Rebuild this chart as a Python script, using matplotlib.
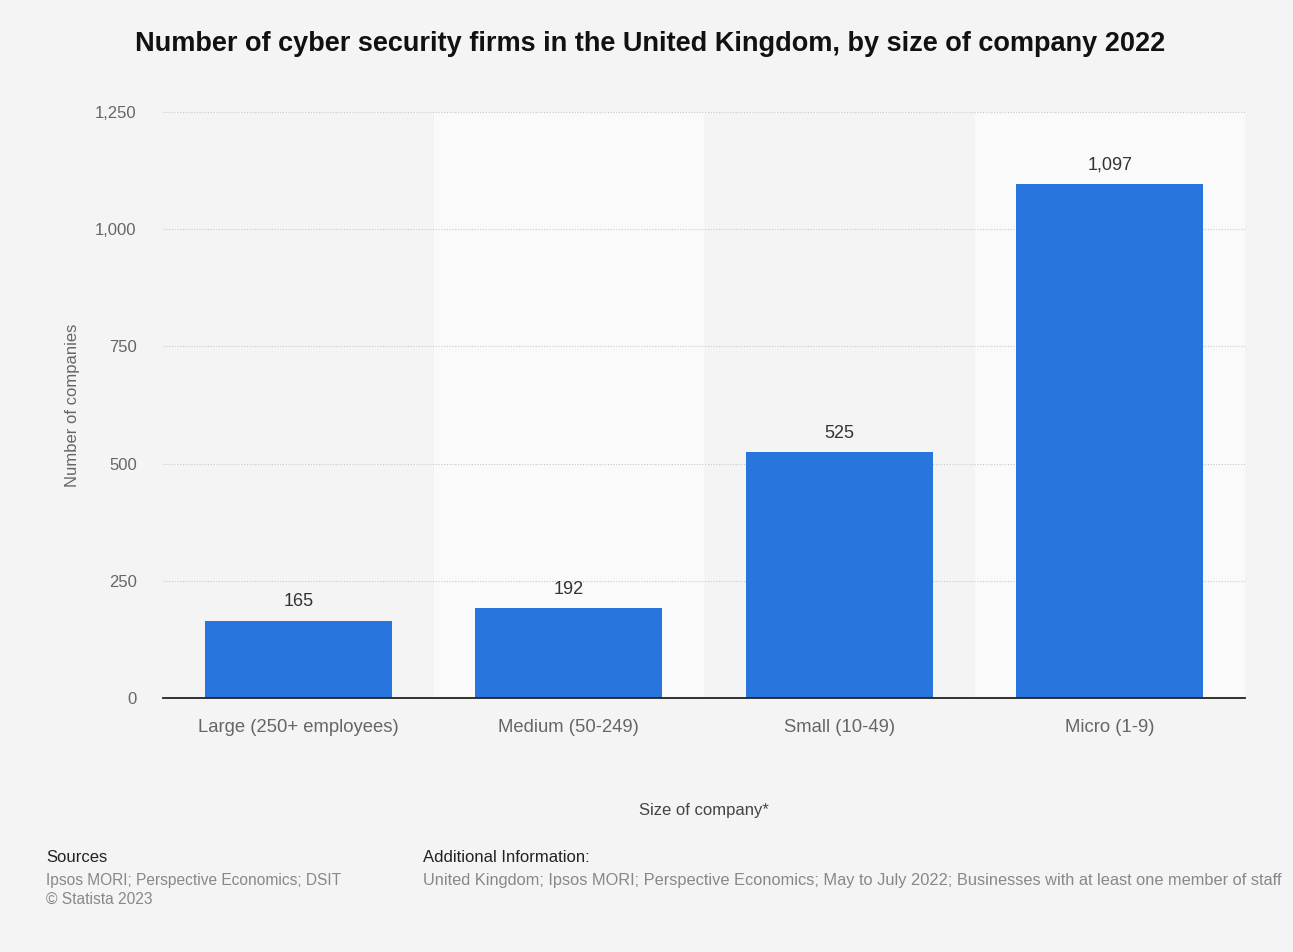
"""Statista-style bar chart: UK cyber security firms by company size, 2022."""
import matplotlib

matplotlib.use("Agg")
import matplotlib.pyplot as plt
from matplotlib.ticker import FuncFormatter

categories = ["Large (250+ employees)", "Medium (50-249)", "Small (10-49)", "Micro (1-9)"]
firms = [165, 192, 525, 1097]
y_ticks = [0, 250, 500, 750, 1000, 1250]

plt.rcParams["font.family"] = ["Liberation Sans", "DejaVu Sans"]

BG = "#f4f4f4"
BAR = "#2876dd"
GREY = "#666666"

fig = plt.figure(figsize=(12.93, 9.52), dpi=100, facecolor=BG)
ax = fig.add_axes([0.1261, 0.2668, 0.8368, 0.6156], facecolor=BG)

x = range(len(categories))
for i in x:
    if i % 2 == 1:
        ax.axvspan(i - 0.5, i + 0.5, color="#fafafa", zorder=0, lw=0)

bars = ax.bar(x, firms, width=0.69, color=BAR, zorder=3)
for b, v in zip(bars, firms):
    ax.text(b.get_x() + b.get_width() / 2, v + 22, f"{v:,}", ha="center", va="bottom",
            fontsize=13, color="#333333", zorder=4)

ax.set_xlim(-0.5, len(categories) - 0.5)
ax.set_ylim(0, 1250)
ax.set_yticks(y_ticks)
ax.yaxis.set_major_formatter(FuncFormatter(lambda v, _: f"{int(v):,}"))
ax.set_xticks(list(x))
ax.set_xticklabels(categories)
ax.tick_params(axis="x", length=0, pad=15, labelsize=13.3, labelcolor=GREY)
ax.tick_params(axis="y", length=0, pad=19, labelsize=12, labelcolor=GREY)
ax.grid(axis="y", color="#c8c8c8", linestyle=(0, (1, 1.5)), linewidth=0.8, zorder=1)
for s in ["top", "right", "left"]:
    ax.spines[s].set_visible(False)
ax.spines["bottom"].set_color("#222222")
ax.spines["bottom"].set_linewidth(1.3)
ax.spines["bottom"].set_zorder(5)

ax.set_xlabel("Size of company*", fontsize=12, color="#444444", labelpad=48)
ax.set_ylabel("Number of companies", fontsize=12, color=GREY, labelpad=11)

fig.text(0.503, 0.954, "Number of cyber security firms in the United Kingdom, by size of company 2022",
         ha="center", va="center", fontsize=19.5, fontweight="bold", color="#111111")

fig.text(46 / 1293, 1 - 858 / 952, "Sources", ha="left", va="center", fontsize=12, color="#222222")
fig.text(46 / 1293, 1 - 880 / 952, "Ipsos MORI; Perspective Economics; DSIT", ha="left", va="center",
         fontsize=11.2, color="#888888")
fig.text(46 / 1293, 1 - 899 / 952, "© Statista 2023", ha="left", va="center", fontsize=11.2, color="#888888")
fig.text(423 / 1293, 1 - 858 / 952, "Additional Information:", ha="left", va="center", fontsize=12,
         color="#222222")
fig.text(423 / 1293, 1 - 880 / 952,
         "United Kingdom; Ipsos MORI; Perspective Economics; May to July 2022; Businesses with at least one member of staff",
         ha="left", va="center", fontsize=11.8, color="#888888")

fig.savefig("out.png", dpi=100, facecolor=BG)
